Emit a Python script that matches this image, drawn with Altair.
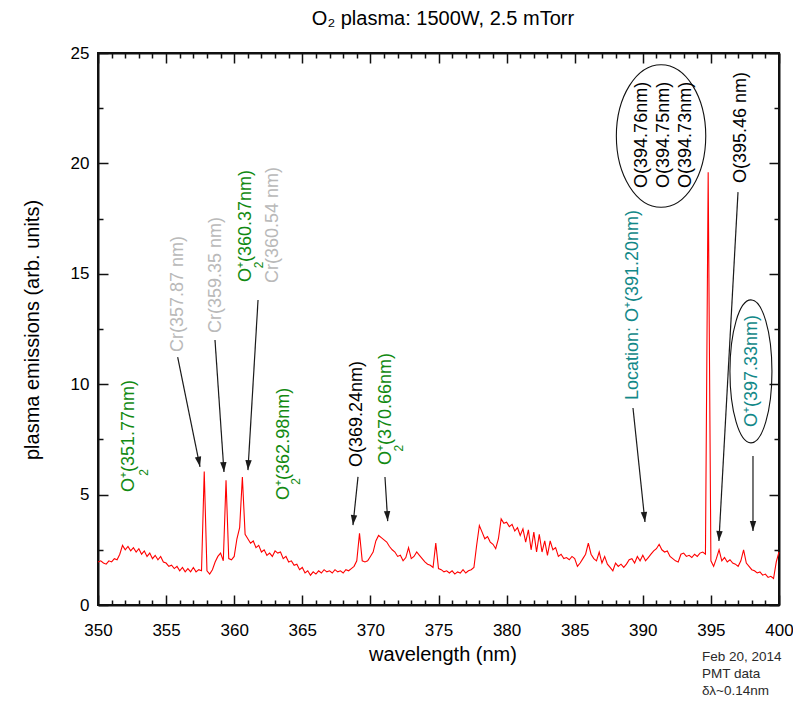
import math
import altair as alt
import pandas as pd

# ---------------- data ----------------
START_NM = 350.0
STEP_NM = 0.2
intensity = [
    # 350.0 - 354.8
    1.95, 2.0, 1.9, 1.85, 2.0, 1.95, 2.1, 2.05, 2.3, 2.7, 2.5, 2.65, 2.45, 2.6, 2.4, 2.55, 2.3, 2.45, 2.2, 2.35, 2.1, 2.25, 2.05, 2.2, 1.95,
    # 355.0 - 359.8
    1.9, 1.75, 1.8, 1.65, 1.75, 1.55, 1.7, 1.5, 1.65, 1.5, 1.7, 1.5, 1.6, 1.55, 6.05, 1.55, 1.4, 1.6, 1.95, 2.2, 2.35, 2.0, 5.65, 2.1, 2.05,
    # 360.0 - 364.8
    2.2, 3.0, 3.5, 5.8, 3.2, 3.0, 2.8, 2.9, 2.6, 2.7, 2.4, 2.5, 2.25, 2.35, 2.2, 2.45, 2.35, 2.4, 2.1, 2.2, 1.95, 2.0, 1.8, 1.85, 1.6,
    # 365.0 - 369.8
    1.7, 1.45, 1.55, 1.35, 1.5, 1.4, 1.55, 1.45, 1.6, 1.5, 1.55, 1.45, 1.6, 1.5, 1.55, 1.45, 1.6, 1.55, 1.65, 1.75, 2.0, 3.25, 2.0, 1.95, 2.0,
    # 370.0 - 374.8
    2.2, 2.4, 2.9, 3.15, 3.05, 2.95, 2.85, 2.65, 2.5, 2.4, 2.2, 2.25, 2.0, 2.15, 2.6, 2.1, 2.2, 2.4, 2.25, 2.1, 1.95, 1.85, 1.8, 1.7, 2.8,
    # 375.0 - 379.8
    1.65, 1.6, 1.5, 1.55, 1.45, 1.55, 1.4, 1.5, 1.45, 1.6, 1.45, 1.55, 1.6, 1.7, 2.7, 3.6, 3.3, 3.0, 3.1, 2.85, 2.75, 2.55, 3.0, 3.9, 3.7,
    # 380.0 - 384.8
    3.75, 3.55, 3.65, 3.35, 3.5, 3.15, 3.45, 2.85, 3.4, 2.5, 3.3, 2.4, 3.2, 2.4, 2.9, 2.25, 2.9, 2.5, 2.6, 2.2, 2.3, 2.1, 2.15, 2.05, 2.2,
    # 385.0 - 389.8
    2.1, 1.75, 1.9, 2.1, 2.3, 2.8, 2.3, 2.1, 2.0, 2.4, 1.9, 2.2, 1.85, 1.7, 1.55, 1.9, 1.75, 1.85, 1.7, 1.85, 2.05, 2.1, 1.9, 2.2, 2.0,
    # 390.0 - 394.8
    2.25, 2.0, 2.15, 2.3, 2.45, 2.55, 2.75, 2.5, 2.4, 2.45, 2.2, 2.1, 2.0, 1.95, 2.3, 2.35, 2.2, 2.25, 2.15, 2.3, 2.2, 2.35, 2.4, 2.3, 19.6,
    # 395.0 - 400.0
    2.0, 1.75, 2.1, 2.5, 2.0, 2.15, 1.95, 2.05, 1.9, 1.85, 1.75, 2.0, 2.5, 1.9, 1.75, 1.6, 1.55, 1.45, 1.5, 1.35, 1.4, 1.25, 1.3, 1.2, 1.95, 2.4,
]
wavelength = [round(START_NM + STEP_NM * i, 2) for i in range(len(intensity))]

x_major = [350, 355, 360, 365, 370, 375, 380, 385, 390, 395, 400]
x_minor = [v for v in range(351, 400) if v % 5 != 0]
y_major = [0, 5, 10, 15, 20, 25]
y_minor = [2.5, 7.5, 12.5, 17.5, 22.5]

GREEN = "#128a12"
GRAY = "#b9b9b9"
TEAL = "#128888"
BLACK = "#000000"

label_text = ["O\u207a(351.77nm)", "Cr(357.87 nm)", "Cr(359.35 nm)", "O\u207a(360.37nm)",
              "Cr(360.54 nm)", "O\u207a(362.98nm)", "O(369.24nm)", "O\u207a(370.66nm)",
              "Location: O\u207a(391.20nm)", "O(394.76nm)", "O(394.75nm)", "O(394.73nm)",
              "O(395.46 nm)", "O\u207a(397.33nm)"]
label_nm = [352.28, 355.87, 358.66, 360.87, 362.85, 363.66, 369.02, 371.15,
            389.28, 389.94, 391.56, 393.17, 397.21, 398.02]
label_val = [5.12, 11.46, 12.32, 14.63, 14.58, 4.76, 6.25, 6.34,
             9.28, 18.89, 18.89, 18.89, 19.11, 8.06]
label_color = [GREEN, GRAY, GRAY, GREEN, GRAY, GREEN, BLACK, GREEN,
               TEAL, BLACK, BLACK, BLACK, BLACK, TEAL]

# subscript "2" of the O2+ labels
sub_nm = [353.38, 361.83, 364.55, 372.10]
sub_val = [6.0, 15.4, 5.6, 7.1]

# arrows: start (nm, value) -> tip (nm, value)
arrow_x1 = [355.85, 358.59, 361.75, 369.09, 371.07, 389.28, 396.99, 398.09]
arrow_y1 = [11.23, 12.0, 13.81, 5.80, 5.80, 8.92, 18.70, 6.75]
arrow_x2 = [357.49, 359.25, 361.01, 368.72, 371.27, 390.16, 395.59, 398.09]
arrow_y2 = [6.26, 6.02, 6.11, 3.62, 3.80, 3.76, 2.90, 3.35]

# ellipses (centre)
ell_nm = [391.34, 397.94]
ell_val = [21.24, 10.58]

title_text = "O\u2082 plasma: 1500W, 2.5 mTorr"
x_title = "wavelength (nm)"
y_title = "plasma emissions (arb. units)"
notes = ["Feb 20, 2014", "PMT data", "\u03b4\u03bb~0.14nm"]

# ---------------- geometry ----------------
W, H = 681, 552
PX_NM = W / 50.0
PX_V = H / 25.0
FONT = "Liberation Sans"
MAJ, MIN = 10, 5  # tick lengths in px
TC = "#111111"

xs = alt.Scale(domain=[350, 400], nice=False, zero=False)
ys = alt.Scale(domain=[0, 25], nice=False, zero=False)

spec = pd.DataFrame({"nm": wavelength, "v": intensity})

line = alt.Chart(spec).mark_line(color="#ff0000", strokeWidth=1.1).encode(
    x=alt.X("nm:Q", scale=xs,
            axis=alt.Axis(orient="bottom", values=x_major, format="d", labelPadding=17, title=None,
                          grid=False, ticks=False, domain=True, domainColor=TC, domainWidth=2,
                          labelFlush=False, labelFont=FONT, labelFontSize=17, labelColor="black")),
    y=alt.Y("v:Q", scale=ys,
            axis=alt.Axis(orient="left", values=y_major, labelPadding=9, title=None,
                          grid=False, ticks=False, domain=True, domainColor=TC, domainWidth=2,
                          labelFlush=False, labelFont=FONT, labelFontSize=17, labelColor="black")),
)


def tick_layer(xorient, yorient, xvals, yvals, size, domain):
    # invisible copy of the spectrum that only carries an inward-tick axis
    return alt.Chart(spec).mark_line(opacity=0).encode(
        x=alt.X("nm:Q", scale=xs,
                axis=alt.Axis(orient=xorient, offset=-H, values=xvals, labels=False, title=None,
                              grid=False, ticks=True, tickSize=size, tickWidth=1.5, tickColor=TC,
                              domain=domain, domainColor=TC, domainWidth=2)),
        y=alt.Y("v:Q", scale=ys,
                axis=alt.Axis(orient=yorient, offset=-W, values=yvals, labels=False, title=None,
                              grid=False, ticks=True, tickSize=size, tickWidth=1.5, tickColor=TC,
                              domain=domain, domainColor=TC, domainWidth=2)),
    )


layers = [
    line,
    tick_layer("top", "right", x_major, y_major, MAJ, False),      # bottom & left inward ticks
    tick_layer("top", "right", x_minor, y_minor, MIN, False),
    tick_layer("bottom", "left", x_major, y_major, MAJ, True),     # top & right inward ticks + frame
    tick_layer("bottom", "left", x_minor, y_minor, MIN, False),
]

# arrows
arr = pd.DataFrame({"x1": arrow_x1, "y1": arrow_y1, "x2": arrow_x2, "y2": arrow_y2})
arr["ang"] = [
    math.degrees(math.atan2(-(b - a) * PX_NM, -(d - c) * PX_V)) % 360
    for a, b, c, d in zip(arrow_x1, arrow_x2, arrow_y1, arrow_y2)
]
layers.append(alt.Chart(arr).mark_rule(color="#1a1a1a", strokeWidth=1.2).encode(
    x=alt.X("x1:Q", scale=xs, axis=None), y=alt.Y("y1:Q", scale=ys, axis=None), x2="x2:Q", y2="y2:Q"))
layers.append(alt.Chart(arr).mark_point(filled=True, color="#1a1a1a", opacity=1,
                                        shape="M0,0L-0.32,-1L0.32,-1Z", size=400).encode(
    x=alt.X("x2:Q", scale=xs, axis=None), y=alt.Y("y2:Q", scale=ys, axis=None),
    angle=alt.Angle("ang:Q", scale=None)))

# ellipses
for cx, cy, rx, ry in [(ell_nm[0], ell_val[0], 44.7, 71.3), (ell_nm[1], ell_val[1], 21.0, 71.5)]:
    a = rx / ry
    path = f"M{-a},0A{a},1 0 1,0 {a},0A{a},1 0 1,0 {-a},0Z"
    layers.append(alt.Chart(pd.DataFrame({"nm": [cx], "v": [cy]})).mark_point(
        shape=path, size=(2 * ry) ** 2, filled=False, stroke="#111111", strokeWidth=1.1, opacity=1).encode(
        x=alt.X("nm:Q", scale=xs, axis=None), y=alt.Y("v:Q", scale=ys, axis=None)))

# rotated labels
lab = pd.DataFrame({"t": label_text, "nm": label_nm, "v": label_val, "c": label_color})
layers.append(alt.Chart(lab).mark_text(angle=270, align="left", baseline="middle",
                                       fontSize=18, font=FONT).encode(
    x=alt.X("nm:Q", scale=xs, axis=None), y=alt.Y("v:Q", scale=ys, axis=None), text="t:N",
    color=alt.Color("c:N", scale=None)))
sub = pd.DataFrame({"nm": sub_nm, "v": sub_val, "t": ["2"] * len(sub_nm)})
layers.append(alt.Chart(sub).mark_text(angle=270, align="center", baseline="middle",
                                       fontSize=12, font=FONT, color=GREEN).encode(
    x=alt.X("nm:Q", scale=xs, axis=None), y=alt.Y("v:Q", scale=ys, axis=None), text="t:N"))

# title, axis titles, notes (pixel placement relative to plot origin)
layers.append(alt.Chart(pd.DataFrame({"t": [title_text]})).mark_text(
    fontSize=20, font=FONT, color="black", align="center", baseline="middle").encode(
    text="t:N", x=alt.value(345), y=alt.value(-34)))
layers.append(alt.Chart(pd.DataFrame({"t": [x_title]})).mark_text(
    fontSize=20, font=FONT, color="black", align="center", baseline="middle").encode(
    text="t:N", x=alt.value(345), y=alt.value(602)))
layers.append(alt.Chart(pd.DataFrame({"t": [y_title]})).mark_text(
    fontSize=20, font=FONT, color="black", align="center", baseline="middle", angle=270).encode(
    text="t:N", x=alt.value(-65), y=alt.value(277)))
notes_df = pd.DataFrame({"t": notes, "py": [604, 621, 638]})
layers.append(alt.Chart(notes_df).mark_text(
    fontSize=13.5, font=FONT, color="#2a2a2a", align="left", baseline="middle").encode(
    text="t:N", x=alt.value(604), y=alt.Y("py:Q", scale=None)))

chart = alt.layer(*layers).resolve_axis(x="independent", y="independent").properties(
    width=W, height=H,
    padding={"left": 90, "top": 45, "right": 14, "bottom": 94},
    autosize=alt.AutoSizeParams(type="none"),
).configure_view(stroke="#111111", strokeWidth=2)

chart.save("out.html", embed_options={"renderer": "svg", "actions": False})
